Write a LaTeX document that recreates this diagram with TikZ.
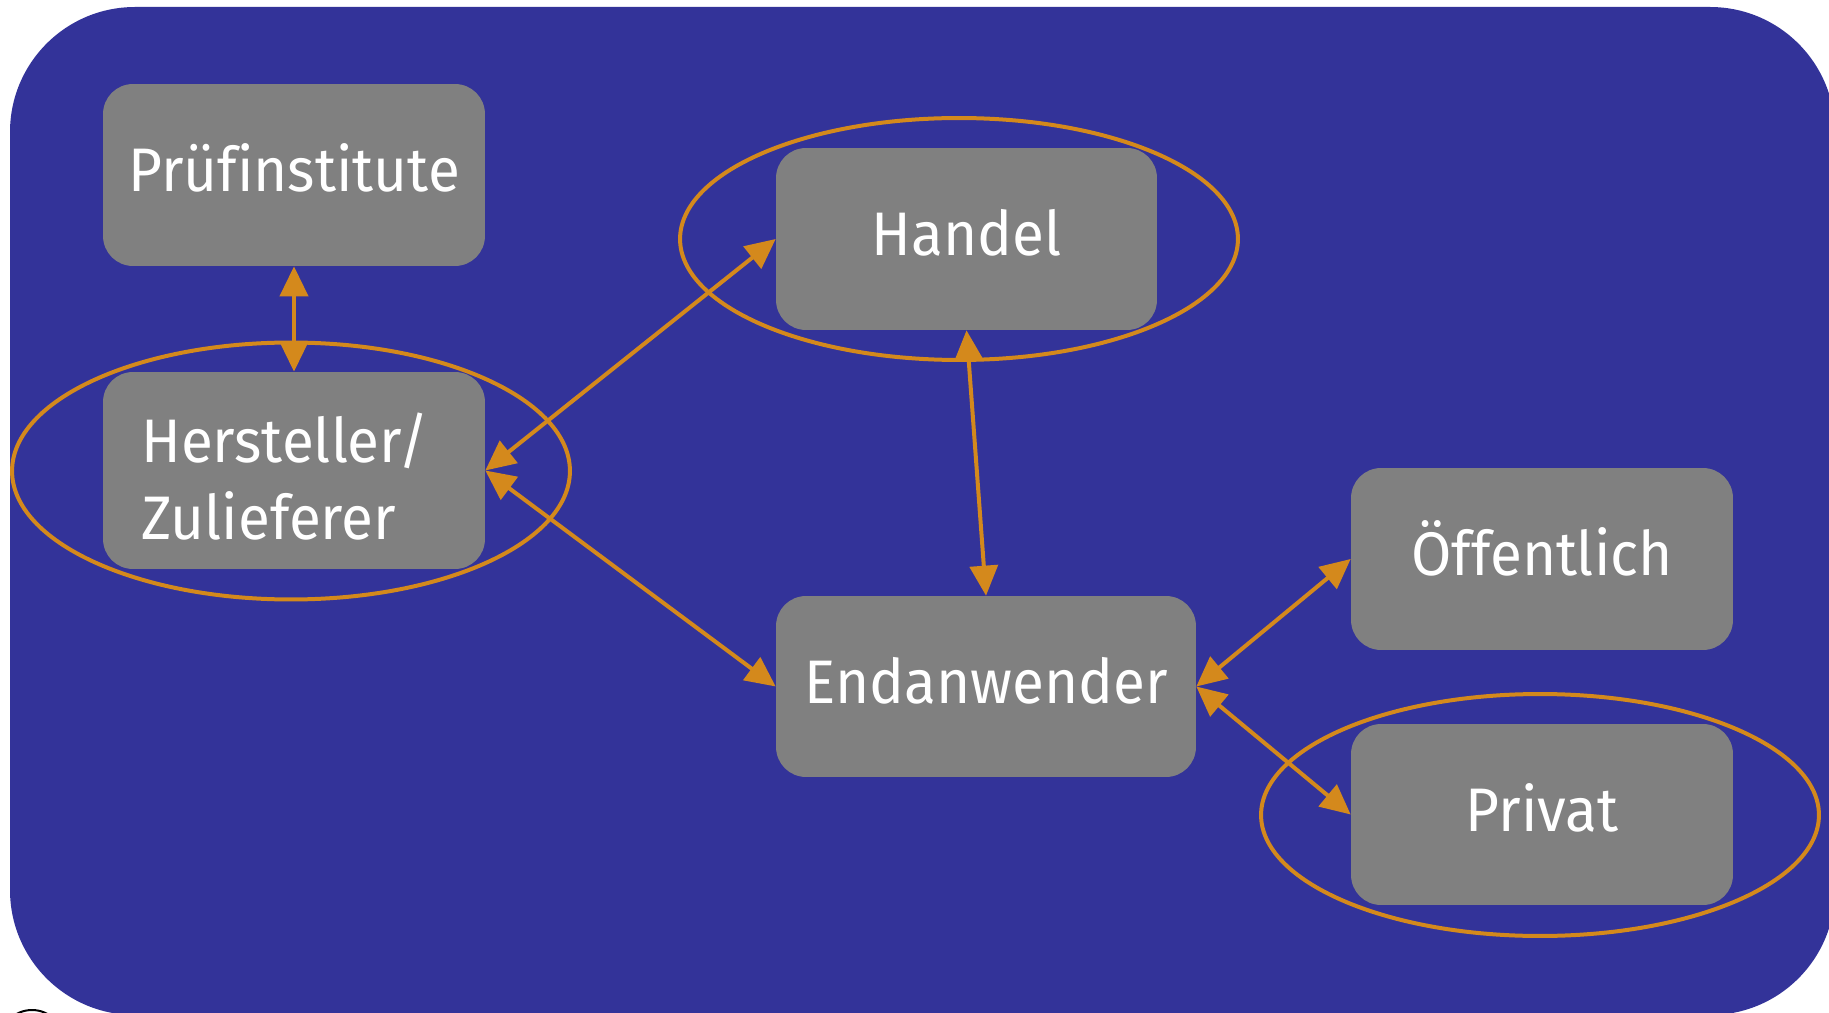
\documentclass[tikz,border=0pt]{standalone}
\usepackage{fontspec}
\setmainfont{Fira Sans}[Ligatures=NoCommon, FakeStretch=0.95]
\usetikzlibrary{arrows.meta}
\definecolor{bgblue}{RGB}{51,51,153}
\definecolor{boxgray}{RGB}{128,128,128}
\definecolor{linkorange}{RGB}{212,137,28}
\tikzset{
  box/.style={draw=none, fill=boxgray, rounded corners=0.6cm, inner sep=0pt,
    text=white, font=\fontsize{35}{44}\selectfont, text height=26pt, text depth=7pt},
  boxtext/.style={inner sep=0pt, text=white, font=\fontsize{35}{44}\selectfont},
  link/.style={draw=linkorange, line width=0.08cm,
    {Triangle[length=0.6cm,width=0.56cm]}-{Triangle[length=0.6cm,width=0.56cm]}},
  ring/.style={draw=linkorange, line width=0.08cm}
}
\begin{document}
\begin{tikzpicture}[x=0.02cm, y=-0.02cm]
\useasboundingbox (0,0) rectangle (1829,1013);
\clip (0,0) rectangle (1829,1013);
\fill[bgblue, rounded corners=2.5cm] (10,7) rectangle (1835,1015);
\draw[black, line width=0.04cm] (32,1042) circle [radius=0.64cm];

\node[box, minimum width=7.64cm, minimum height=3.64cm] (pruef) at (294,175) {Prüfinstitute};
\node[box, minimum width=7.64cm, minimum height=3.94cm] (herst) at (294,470.5) {};
\node[boxtext, align=left] (hersttext) at ([yshift=-3.4pt, xshift=-5pt]herst.center) {Hersteller/\\Zulieferer};
\node[box, minimum width=7.62cm, minimum height=3.64cm] (handel) at (966.5,239) {Handel};
\node[box, minimum width=8.40cm, minimum height=3.62cm] (endan) at (986,686.5) {Endanwender};
\node[box, minimum width=7.64cm, minimum height=3.64cm] (oeff) at (1542,559) {Öffentlich};
\node[box, minimum width=7.64cm, minimum height=3.62cm] (privat) at (1542,814.5) {Privat};

\draw[ring] (291,471) ellipse [x radius=5.58cm, y radius=2.57cm];
\draw[ring] (959,239) ellipse [x radius=5.58cm, y radius=2.42cm];
\draw[ring] (1540,815) ellipse [x radius=5.58cm, y radius=2.42cm];

\draw[link] (pruef.south) -- (herst.north);
\draw[link] (herst.east) -- (handel.west);
\draw[link] (herst.east) -- (endan.west);
\draw[link] (handel.south) -- (endan.north);
\draw[link] (endan.east) -- (oeff.west);
\draw[link] (endan.east) -- (privat.west);
\end{tikzpicture}
\end{document}
